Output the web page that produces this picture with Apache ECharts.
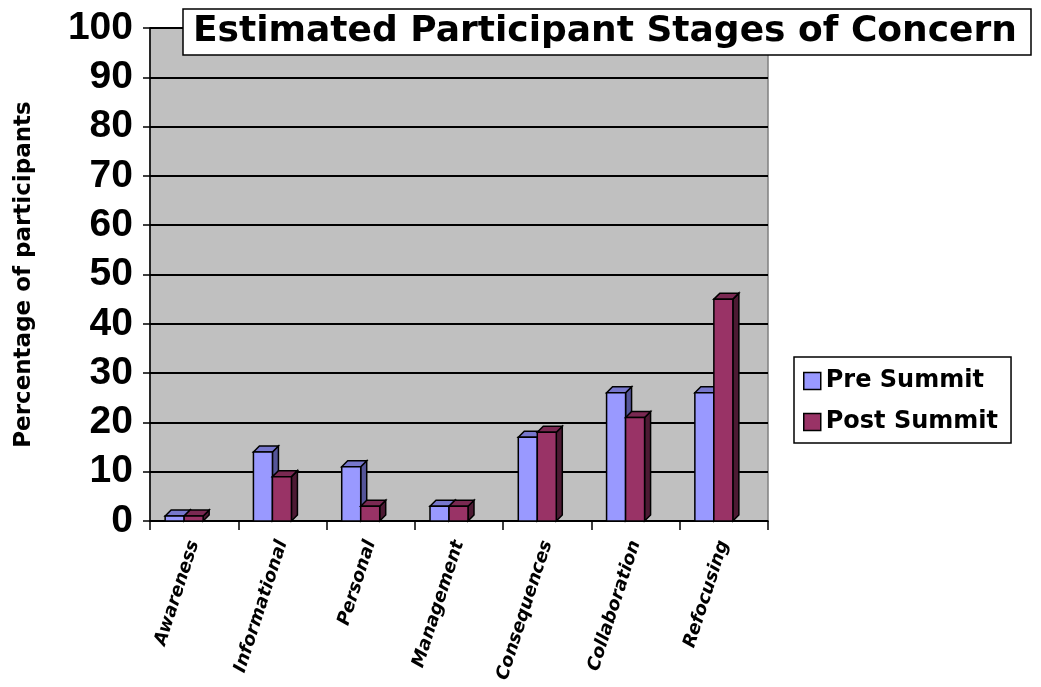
<!DOCTYPE html>
<html>
<head>
<meta charset="utf-8">
<script src="https://cdn.jsdelivr.net/npm/echarts@6/dist/echarts.min.js"></script>
<style>
  html, body { margin: 0; padding: 0; background: #fff; }
  #chart { width: 1041px; height: 687px; }
</style>
</head>
<body>
<div id="chart"></div>
<script>
// data
const stages = ["Awareness", "Informational", "Personal", "Management", "Consequences", "Collaboration", "Refocusing"];
const preSummit = [1, 14, 11, 3, 17, 26, 26];
const postSummit = [1, 9, 3, 3, 18, 21, 45];
const yTicks = [0, 10, 20, 30, 40, 50, 60, 70, 80, 90, 100];

// the words in the original are wider than arial, the digits are not
const TEXT_FONT = "'DejaVu Sans', sans-serif";
const NUM_FONT = "'Liberation Sans', Arial, sans-serif";
const BAR_W = 19;
const DEPTH = 6;

// draws a bar with a fake 3D top and side, like the old excel charts
function bar3d(offset, front, top, side) {
  return function (params, api) {
    const idx = api.value(0);
    const base = api.coord([idx, 0]);
    const tip = api.coord([idx, api.value(1)]);
    const x0 = base[0] + offset;
    const y0 = base[1];
    const y1 = tip[1];
    const line = { stroke: "#000", lineWidth: 1.5 };
    return {
      type: "group",
      children: [
        {
          type: "polygon",
          shape: { points: [[x0 + BAR_W, y1], [x0 + BAR_W + DEPTH, y1 - DEPTH], [x0 + BAR_W + DEPTH, y0 - DEPTH], [x0 + BAR_W, y0]] },
          style: Object.assign({ fill: side }, line)
        },
        {
          type: "polygon",
          shape: { points: [[x0, y1], [x0 + DEPTH, y1 - DEPTH], [x0 + BAR_W + DEPTH, y1 - DEPTH], [x0 + BAR_W, y1]] },
          style: Object.assign({ fill: top }, line)
        },
        {
          type: "rect",
          shape: { x: x0, y: y1, width: BAR_W, height: y0 - y1 },
          style: Object.assign({ fill: front }, line)
        }
      ]
    };
  };
}

const chart = echarts.init(document.getElementById("chart"));
chart.setOption({
  animation: false,
  title: {
    text: "Estimated Participant Stages of Concern",
    left: 183,
    top: 9,
    padding: [5, 14, 5, 10],
    backgroundColor: "#fff",
    borderColor: "#000",
    borderWidth: 1.5,
    textStyle: { fontFamily: TEXT_FONT, fontSize: 36, fontWeight: "bold", color: "#000" }
  },
  legend: {
    orient: "vertical",
    left: 794,
    top: 357,
    padding: [12, 13, 9, 9],
    itemGap: 17,
    itemWidth: 17,
    itemHeight: 17,
    icon: "rect",
    backgroundColor: "#fff",
    borderColor: "#000",
    borderWidth: 1.5,
    itemStyle: { borderColor: "#000", borderWidth: 1.5 },
    textStyle: { fontFamily: TEXT_FONT, fontSize: 24, fontWeight: "bold", color: "#000" },
    data: ["Pre Summit", "Post Summit"]
  },
  grid: {
    left: 150,
    right: 273,
    top: 28,
    bottom: 166,
    show: true,
    backgroundColor: "#c0c0c0",
    borderColor: "#808080",
    borderWidth: 1.5
  },
  xAxis: {
    type: "category",
    data: stages,
    axisLine: { lineStyle: { color: "#000", width: 1.5 } },
    axisTick: { show: true, length: 9, alignWithLabel: false, interval: 0, lineStyle: { color: "#000", width: 1.5 } },
    axisLabel: {
      interval: 0,
      rotate: 72,
      margin: 20,
      fontFamily: TEXT_FONT,
      fontSize: 18,
      fontWeight: "bold",
      fontStyle: "italic",
      color: "#000"
    }
  },
  yAxis: {
    type: "value",
    min: yTicks[0],
    max: yTicks[yTicks.length - 1],
    interval: 10,
    name: "Percentage of participants",
    nameLocation: "middle",
    nameGap: 114,
    nameTextStyle: { fontFamily: TEXT_FONT, fontSize: 23, fontWeight: "bold", color: "#000" },
    axisLine: { show: true, lineStyle: { color: "#000", width: 1.5 } },
    axisTick: { show: true, length: 7, lineStyle: { color: "#000", width: 1.5 } },
    axisLabel: { margin: 17, fontFamily: NUM_FONT, fontSize: 39, fontWeight: "bold", color: "#000" },
    splitLine: { show: true, lineStyle: { color: "#000", width: 2 } }
  },
  series: [
    {
      name: "Pre Summit",
      type: "custom",
      itemStyle: { color: "#9999ff" },
      renderItem: bar3d(-29, "#9999ff", "#7777cc", "#555599"),
      encode: { x: 0, y: 1 },
      data: preSummit.map((v, i) => [i, v])
    },
    {
      name: "Post Summit",
      type: "custom",
      itemStyle: { color: "#993366" },
      renderItem: bar3d(-10, "#993366", "#7a2952", "#4d1a33"),
      encode: { x: 0, y: 1 },
      data: postSummit.map((v, i) => [i, v])
    }
  ]
});
</script>
</body>
</html>
